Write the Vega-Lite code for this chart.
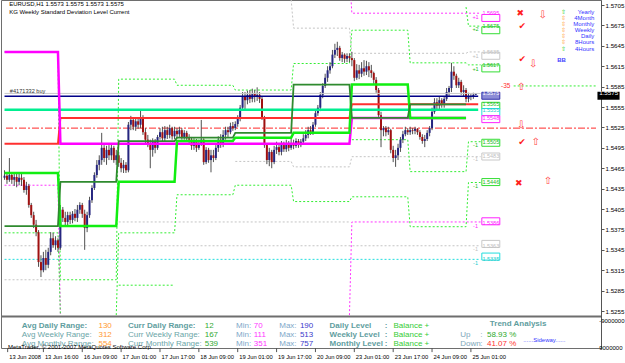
{
"$schema":"https://vega.github.io/schema/vega-lite/v6.json",
"autosize":{"type":"none"},
"padding":{"left":1,"top":0,"right":24,"bottom":15},
"background":"white",
"width":600,"height":348,
"config":{"font":"Liberation Sans","view":{"stroke":"#6e6e6e"},"axis":{"grid":false,"labelFont":"Liberation Sans"}},
"resolve":{"scale":{"y":"independent"}},
"datasets":{
"candles":[
{"i":0,"o":1.5451,"h":1.5462,"l":1.5448,"c":1.5454},{"i":1,"o":1.5454,"h":1.5459,"l":1.5442,"c":1.5448},{"i":2,"o":1.5448,"h":1.548,"l":1.5445,"c":1.5455},{"i":3,"o":1.5455,"h":1.5459,"l":1.5442,"c":1.5448},{"i":4,"o":1.5448,"h":1.5458,"l":1.5439,"c":1.5452},{"i":5,"o":1.5452,"h":1.5457,"l":1.5437,"c":1.5445},{"i":6,"o":1.5445,"h":1.5459,"l":1.544,"c":1.5451},{"i":7,"o":1.5451,"h":1.5457,"l":1.5439,"c":1.5448},{"i":8,"o":1.5448,"h":1.5452,"l":1.5429,"c":1.5433},{"i":9,"o":1.5433,"h":1.5445,"l":1.5426,"c":1.5439},
{"i":10,"o":1.5439,"h":1.5442,"l":1.5407,"c":1.5411},{"i":11,"o":1.5411,"h":1.5414,"l":1.5392,"c":1.5396},{"i":12,"o":1.5396,"h":1.5401,"l":1.5377,"c":1.5382},{"i":13,"o":1.5382,"h":1.5389,"l":1.5365,"c":1.5371},{"i":14,"o":1.5371,"h":1.5374,"l":1.532,"c":1.5327},{"i":15,"o":1.5327,"h":1.5337,"l":1.5305,"c":1.5315},{"i":16,"o":1.5315,"h":1.5342,"l":1.5312,"c":1.5333},{"i":17,"o":1.5333,"h":1.5345,"l":1.5315,"c":1.5323},{"i":18,"o":1.5323,"h":1.5348,"l":1.5318,"c":1.5342},{"i":19,"o":1.5342,"h":1.5371,"l":1.5337,"c":1.5362},
{"i":20,"o":1.5362,"h":1.537,"l":1.5348,"c":1.5352},{"i":21,"o":1.5352,"h":1.5365,"l":1.5345,"c":1.5359},{"i":22,"o":1.5359,"h":1.5362,"l":1.5342,"c":1.5348},{"i":23,"o":1.5348,"h":1.5411,"l":1.5345,"c":1.5404},{"i":24,"o":1.5404,"h":1.5408,"l":1.5386,"c":1.5392},{"i":25,"o":1.5392,"h":1.5401,"l":1.538,"c":1.5386},{"i":26,"o":1.5386,"h":1.5401,"l":1.538,"c":1.5396},{"i":27,"o":1.5396,"h":1.5401,"l":1.5383,"c":1.5389},{"i":28,"o":1.5389,"h":1.5402,"l":1.5384,"c":1.5398},{"i":29,"o":1.5398,"h":1.5405,"l":1.5387,"c":1.5392},
{"i":30,"o":1.5392,"h":1.5411,"l":1.5386,"c":1.5404},{"i":31,"o":1.5404,"h":1.5415,"l":1.5398,"c":1.5411},{"i":32,"o":1.5411,"h":1.5414,"l":1.5392,"c":1.5398},{"i":33,"o":1.5398,"h":1.5404,"l":1.5345,"c":1.5377},{"i":34,"o":1.5377,"h":1.5401,"l":1.5371,"c":1.5396},{"i":35,"o":1.5396,"h":1.5423,"l":1.5392,"c":1.5418},{"i":36,"o":1.5418,"h":1.544,"l":1.5414,"c":1.5436},{"i":37,"o":1.5436,"h":1.5459,"l":1.5433,"c":1.5455},{"i":38,"o":1.5455,"h":1.5477,"l":1.5451,"c":1.547},{"i":39,"o":1.547,"h":1.5484,"l":1.5462,"c":1.5477},
{"i":40,"o":1.5477,"h":1.5517,"l":1.547,"c":1.5495},{"i":41,"o":1.5495,"h":1.5499,"l":1.5474,"c":1.548},{"i":42,"o":1.548,"h":1.5498,"l":1.547,"c":1.5492},{"i":43,"o":1.5492,"h":1.5499,"l":1.5477,"c":1.5484},{"i":44,"o":1.5484,"h":1.5502,"l":1.5477,"c":1.5495},{"i":45,"o":1.5495,"h":1.5498,"l":1.5473,"c":1.5477},{"i":46,"o":1.5477,"h":1.5492,"l":1.547,"c":1.5484},{"i":47,"o":1.5484,"h":1.5489,"l":1.5467,"c":1.5473},{"i":48,"o":1.5473,"h":1.548,"l":1.5459,"c":1.5465},{"i":49,"o":1.5465,"h":1.5477,"l":1.5458,"c":1.547},
{"i":50,"o":1.547,"h":1.5474,"l":1.5458,"c":1.5462},{"i":51,"o":1.5462,"h":1.5533,"l":1.5459,"c":1.5529},{"i":52,"o":1.5529,"h":1.5542,"l":1.5521,"c":1.5536},{"i":53,"o":1.5536,"h":1.554,"l":1.5521,"c":1.5526},{"i":54,"o":1.5526,"h":1.5539,"l":1.552,"c":1.5534},{"i":55,"o":1.5534,"h":1.554,"l":1.5523,"c":1.5529},{"i":56,"o":1.5529,"h":1.5551,"l":1.5524,"c":1.5539},{"i":57,"o":1.5539,"h":1.5543,"l":1.5514,"c":1.5518},{"i":58,"o":1.5518,"h":1.5524,"l":1.5502,"c":1.5507},{"i":59,"o":1.5507,"h":1.5514,"l":1.5496,"c":1.5499},
{"i":60,"o":1.5499,"h":1.5507,"l":1.5465,"c":1.5492},{"i":61,"o":1.5492,"h":1.5509,"l":1.5482,"c":1.5504},{"i":62,"o":1.5504,"h":1.5508,"l":1.5487,"c":1.5495},{"i":63,"o":1.5495,"h":1.5514,"l":1.5492,"c":1.5511},{"i":64,"o":1.5511,"h":1.5524,"l":1.5507,"c":1.5518},{"i":65,"o":1.5518,"h":1.5526,"l":1.5504,"c":1.5509},{"i":66,"o":1.5509,"h":1.5527,"l":1.5505,"c":1.5521},{"i":67,"o":1.5521,"h":1.5526,"l":1.5508,"c":1.5514},{"i":68,"o":1.5514,"h":1.5529,"l":1.5509,"c":1.5524},{"i":69,"o":1.5524,"h":1.5526,"l":1.5507,"c":1.5512},
{"i":70,"o":1.5512,"h":1.5526,"l":1.5508,"c":1.552},{"i":71,"o":1.552,"h":1.5524,"l":1.5509,"c":1.5515},{"i":72,"o":1.5515,"h":1.5526,"l":1.5511,"c":1.5521},{"i":73,"o":1.5521,"h":1.5524,"l":1.5507,"c":1.5511},{"i":74,"o":1.5511,"h":1.5521,"l":1.5507,"c":1.5517},{"i":75,"o":1.5517,"h":1.552,"l":1.5505,"c":1.5509},{"i":76,"o":1.5509,"h":1.5515,"l":1.5501,"c":1.5507},{"i":77,"o":1.5507,"h":1.5511,"l":1.5492,"c":1.5498},{"i":78,"o":1.5498,"h":1.5509,"l":1.5492,"c":1.5505},{"i":79,"o":1.5505,"h":1.5508,"l":1.5489,"c":1.5495},
{"i":80,"o":1.5495,"h":1.5507,"l":1.5492,"c":1.5502},{"i":81,"o":1.5502,"h":1.5536,"l":1.5498,"c":1.5507},{"i":82,"o":1.5507,"h":1.5509,"l":1.547,"c":1.5474},{"i":83,"o":1.5474,"h":1.5496,"l":1.5471,"c":1.5492},{"i":84,"o":1.5492,"h":1.5495,"l":1.5473,"c":1.5477},{"i":85,"o":1.5477,"h":1.5492,"l":1.5459,"c":1.5484},{"i":86,"o":1.5484,"h":1.5492,"l":1.5474,"c":1.548},{"i":87,"o":1.548,"h":1.5499,"l":1.5477,"c":1.5495},{"i":88,"o":1.5495,"h":1.5512,"l":1.5489,"c":1.5507},{"i":89,"o":1.5507,"h":1.5515,"l":1.5495,"c":1.5501},
{"i":90,"o":1.5501,"h":1.5521,"l":1.5496,"c":1.5514},{"i":91,"o":1.5514,"h":1.5526,"l":1.5507,"c":1.5521},{"i":92,"o":1.5521,"h":1.5526,"l":1.5511,"c":1.5518},{"i":93,"o":1.5518,"h":1.5532,"l":1.5515,"c":1.5527},{"i":94,"o":1.5527,"h":1.5533,"l":1.552,"c":1.5524},{"i":95,"o":1.5524,"h":1.5534,"l":1.5521,"c":1.553},{"i":96,"o":1.553,"h":1.5543,"l":1.5526,"c":1.5539},{"i":97,"o":1.5539,"h":1.5558,"l":1.5534,"c":1.5554},{"i":98,"o":1.5554,"h":1.5577,"l":1.5551,"c":1.5571},{"i":99,"o":1.5571,"h":1.5577,"l":1.5551,"c":1.5565},
{"i":100,"o":1.5565,"h":1.5579,"l":1.5559,"c":1.5573},{"i":101,"o":1.5573,"h":1.558,"l":1.5561,"c":1.5567},{"i":102,"o":1.5567,"h":1.5582,"l":1.5562,"c":1.5574},{"i":103,"o":1.5574,"h":1.558,"l":1.5562,"c":1.557},{"i":104,"o":1.557,"h":1.5584,"l":1.5564,"c":1.5573},{"i":105,"o":1.5573,"h":1.5577,"l":1.5561,"c":1.5567},{"i":106,"o":1.5567,"h":1.557,"l":1.5536,"c":1.5539},{"i":107,"o":1.5539,"h":1.5542,"l":1.5495,"c":1.5499},{"i":108,"o":1.5499,"h":1.5502,"l":1.5471,"c":1.5477},{"i":109,"o":1.5477,"h":1.5495,"l":1.5468,"c":1.5489},
{"i":110,"o":1.5489,"h":1.5492,"l":1.5465,"c":1.5474},{"i":111,"o":1.5474,"h":1.5498,"l":1.5471,"c":1.5492},{"i":112,"o":1.5492,"h":1.5504,"l":1.5486,"c":1.5496},{"i":113,"o":1.5496,"h":1.5501,"l":1.5484,"c":1.5489},{"i":114,"o":1.5489,"h":1.5505,"l":1.5484,"c":1.5499},{"i":115,"o":1.5499,"h":1.5504,"l":1.5489,"c":1.5493},{"i":116,"o":1.5493,"h":1.5507,"l":1.5489,"c":1.5501},{"i":117,"o":1.5501,"h":1.5505,"l":1.549,"c":1.5495},{"i":118,"o":1.5495,"h":1.5508,"l":1.5492,"c":1.5502},{"i":119,"o":1.5502,"h":1.5507,"l":1.5493,"c":1.5498},
{"i":120,"o":1.5498,"h":1.5509,"l":1.5495,"c":1.5505},{"i":121,"o":1.5505,"h":1.5508,"l":1.5495,"c":1.5499},{"i":122,"o":1.5499,"h":1.5508,"l":1.5496,"c":1.5504},{"i":123,"o":1.5504,"h":1.5515,"l":1.5501,"c":1.5509},{"i":124,"o":1.5509,"h":1.5521,"l":1.5505,"c":1.5514},{"i":125,"o":1.5514,"h":1.5526,"l":1.5509,"c":1.5521},{"i":126,"o":1.5521,"h":1.5527,"l":1.5514,"c":1.5518},{"i":127,"o":1.5518,"h":1.5533,"l":1.5514,"c":1.5529},{"i":128,"o":1.5529,"h":1.5551,"l":1.5526,"c":1.5546},{"i":129,"o":1.5546,"h":1.5558,"l":1.5542,"c":1.5554},
{"i":130,"o":1.5554,"h":1.5577,"l":1.5549,"c":1.5573},{"i":131,"o":1.5573,"h":1.559,"l":1.5568,"c":1.5586},{"i":132,"o":1.5586,"h":1.5604,"l":1.5583,"c":1.5598},{"i":133,"o":1.5598,"h":1.5615,"l":1.5592,"c":1.5609},{"i":134,"o":1.5609,"h":1.5621,"l":1.5604,"c":1.5615},{"i":135,"o":1.5615,"h":1.5639,"l":1.5612,"c":1.5632},{"i":136,"o":1.5632,"h":1.5648,"l":1.5627,"c":1.5639},{"i":137,"o":1.5639,"h":1.5651,"l":1.563,"c":1.5642},{"i":138,"o":1.5642,"h":1.5645,"l":1.5623,"c":1.5627},{"i":139,"o":1.5627,"h":1.5636,"l":1.5621,"c":1.5632},
{"i":140,"o":1.5632,"h":1.5634,"l":1.562,"c":1.5626},{"i":141,"o":1.5626,"h":1.5634,"l":1.5621,"c":1.563},{"i":142,"o":1.563,"h":1.5634,"l":1.5621,"c":1.5627},{"i":143,"o":1.5627,"h":1.5636,"l":1.5615,"c":1.5624},{"i":144,"o":1.5624,"h":1.5627,"l":1.5593,"c":1.5598},{"i":145,"o":1.5598,"h":1.5618,"l":1.5595,"c":1.5609},{"i":146,"o":1.5609,"h":1.5617,"l":1.5596,"c":1.5604},{"i":147,"o":1.5604,"h":1.5621,"l":1.5599,"c":1.5612},{"i":148,"o":1.5612,"h":1.5624,"l":1.5601,"c":1.5607},{"i":149,"o":1.5607,"h":1.5623,"l":1.5602,"c":1.5615},
{"i":150,"o":1.5615,"h":1.5621,"l":1.5599,"c":1.5609},{"i":151,"o":1.5609,"h":1.5617,"l":1.5598,"c":1.5605},{"i":152,"o":1.5605,"h":1.5607,"l":1.5589,"c":1.5595},{"i":153,"o":1.5595,"h":1.5599,"l":1.5576,"c":1.558},{"i":154,"o":1.558,"h":1.5583,"l":1.5539,"c":1.5543},{"i":155,"o":1.5543,"h":1.5548,"l":1.5496,"c":1.5521},{"i":156,"o":1.5521,"h":1.5527,"l":1.5512,"c":1.5524},{"i":157,"o":1.5524,"h":1.5527,"l":1.5512,"c":1.5518},{"i":158,"o":1.5518,"h":1.5526,"l":1.5514,"c":1.5521},{"i":159,"o":1.5521,"h":1.5523,"l":1.5487,"c":1.5492},
{"i":160,"o":1.5492,"h":1.5498,"l":1.5474,"c":1.548},{"i":161,"o":1.548,"h":1.5492,"l":1.5467,"c":1.5484},{"i":162,"o":1.5484,"h":1.5501,"l":1.5477,"c":1.5495},{"i":163,"o":1.5495,"h":1.5511,"l":1.5489,"c":1.5507},{"i":164,"o":1.5507,"h":1.552,"l":1.5502,"c":1.5515},{"i":165,"o":1.5515,"h":1.5526,"l":1.5512,"c":1.5521},{"i":166,"o":1.5521,"h":1.5524,"l":1.5514,"c":1.5518},{"i":167,"o":1.5518,"h":1.5526,"l":1.5514,"c":1.5521},{"i":168,"o":1.5521,"h":1.5524,"l":1.5515,"c":1.552},{"i":169,"o":1.552,"h":1.5526,"l":1.5515,"c":1.5523},
{"i":170,"o":1.5523,"h":1.5524,"l":1.5514,"c":1.5518},{"i":171,"o":1.5518,"h":1.5521,"l":1.5507,"c":1.5511},{"i":172,"o":1.5511,"h":1.5515,"l":1.5501,"c":1.5505},{"i":173,"o":1.5505,"h":1.5514,"l":1.5496,"c":1.5508},{"i":174,"o":1.5508,"h":1.5521,"l":1.5505,"c":1.5517},{"i":175,"o":1.5517,"h":1.5527,"l":1.5512,"c":1.5524},{"i":176,"o":1.5524,"h":1.5554,"l":1.5521,"c":1.5548},{"i":177,"o":1.5548,"h":1.5568,"l":1.5545,"c":1.5562},{"i":178,"o":1.5562,"h":1.5568,"l":1.5551,"c":1.5557},{"i":179,"o":1.5557,"h":1.557,"l":1.5552,"c":1.5565},
{"i":180,"o":1.5565,"h":1.5568,"l":1.5554,"c":1.5558},{"i":181,"o":1.5558,"h":1.5571,"l":1.5554,"c":1.5567},{"i":182,"o":1.5567,"h":1.5583,"l":1.5564,"c":1.5577},{"i":183,"o":1.5577,"h":1.5586,"l":1.5571,"c":1.5583},{"i":184,"o":1.5583,"h":1.562,"l":1.5577,"c":1.5607},{"i":185,"o":1.5607,"h":1.5615,"l":1.5595,"c":1.5601},{"i":186,"o":1.5601,"h":1.5604,"l":1.5583,"c":1.5587},{"i":187,"o":1.5587,"h":1.5598,"l":1.5583,"c":1.5592},{"i":188,"o":1.5592,"h":1.5595,"l":1.5573,"c":1.5577},{"i":189,"o":1.5577,"h":1.5587,"l":1.5571,"c":1.558},
{"i":190,"o":1.558,"h":1.5583,"l":1.5562,"c":1.5567},{"i":191,"o":1.5567,"h":1.5576,"l":1.5562,"c":1.5571},{"i":192,"o":1.5571,"h":1.5574,"l":1.5565,"c":1.557},{"i":193,"o":1.557,"h":1.5576,"l":1.5567,"c":1.5573},{"i":194,"o":1.5573,"h":1.5575,"l":1.5573,"c":1.5575}
],
"lv":[
{"s":"mag","g":"mag","i":0,"p":1.5636},{"s":"mag","g":"mag","i":22,"p":1.5636},{"s":"mag","g":"mag","i":23,"p":1.5501},{"s":"mag","g":"mag","i":142,"p":1.5501},{"s":"mag","g":"mag","i":143,"p":1.5539},{"s":"mag","g":"mag","i":190,"p":1.5539},
{"s":"red","g":"red","i":0,"p":1.5501},{"s":"red","g":"red","i":22,"p":1.5501},{"s":"red","g":"red","i":23,"p":1.5539},{"s":"red","g":"red","i":142,"p":1.5539},{"s":"red","g":"red","i":143,"p":1.5559},{"s":"red","g":"red","i":195,"p":1.5559},
{"s":"spr","g":"spr","i":0,"p":1.5551},{"s":"spr","g":"spr","i":195,"p":1.5551},
{"s":"nav","g":"nav","i":0,"p":1.5571},{"s":"nav","g":"nav","i":195,"p":1.5571},
{"s":"bid","g":"bid","i":0,"p":1.5575},{"s":"bid","g":"bid","i":196,"p":1.5575},
{"s":"bgr","g":"bgr","i":0,"p":1.5458},{"s":"bgr","g":"bgr","i":22,"p":1.5458},{"s":"bgr","g":"bgr","i":23,"p":1.538},{"s":"bgr","g":"bgr","i":46,"p":1.538},{"s":"bgr","g":"bgr","i":47,"p":1.5445},{"s":"bgr","g":"bgr","i":70,"p":1.5445},{"s":"bgr","g":"bgr","i":71,"p":1.5505},{"s":"bgr","g":"bgr","i":94,"p":1.5505},{"s":"bgr","g":"bgr","i":95,"p":1.551},{"s":"bgr","g":"bgr","i":118,"p":1.551},{"s":"bgr","g":"bgr","i":119,"p":1.5517},{"s":"bgr","g":"bgr","i":142,"p":1.5517},{"s":"bgr","g":"bgr","i":143,"p":1.5588},{"s":"bgr","g":"bgr","i":166,"p":1.5588},{"s":"bgr","g":"bgr","i":167,"p":1.5539},{"s":"bgr","g":"bgr","i":190,"p":1.5539},
{"s":"dgr","g":"dgr","i":0,"p":1.538},{"s":"dgr","g":"dgr","i":22,"p":1.538},{"s":"dgr","g":"dgr","i":23,"p":1.5445},{"s":"dgr","g":"dgr","i":46,"p":1.5445},{"s":"dgr","g":"dgr","i":47,"p":1.5505},{"s":"dgr","g":"dgr","i":70,"p":1.5505},{"s":"dgr","g":"dgr","i":71,"p":1.551},{"s":"dgr","g":"dgr","i":94,"p":1.551},{"s":"dgr","g":"dgr","i":95,"p":1.5517},{"s":"dgr","g":"dgr","i":118,"p":1.5517},{"s":"dgr","g":"dgr","i":119,"p":1.5588},{"s":"dgr","g":"dgr","i":142,"p":1.5588},{"s":"dgr","g":"dgr","i":143,"p":1.5539},{"s":"dgr","g":"dgr","i":166,"p":1.5539},{"s":"dgr","g":"dgr","i":167,"p":1.5559},{"s":"dgr","g":"dgr","i":190,"p":1.5559},
{"s":"gd","g":"gdU","i":0,"p":1.5636},{"s":"gd","g":"gdU","i":22,"p":1.5636},{"s":"gd","g":"gdU","i":23,"p":1.5301},{"s":"gd","g":"gdU","i":46,"p":1.5301},{"s":"gd","g":"gdU","i":47,"p":1.5596},{"s":"gd","g":"gdU","i":70,"p":1.5596},{"s":"gd","g":"gdU","i":71,"p":1.5587},{"s":"gd","g":"gdU","i":94,"p":1.5587},{"s":"gd","g":"gdU","i":95,"p":1.558},{"s":"gd","g":"gdU","i":118,"p":1.558},{"s":"gd","g":"gdU","i":119,"p":1.5619},{"s":"gd","g":"gdU","i":142,"p":1.5619},{"s":"gd","g":"gdU","i":143,"p":1.5668},{"s":"gd","g":"gdU","i":166,"p":1.5668},{"s":"gd","g":"gdU","i":167,"p":1.562},{"s":"gd","g":"gdU","i":190,"p":1.562},{"s":"gd","g":"gdU","i":191,"p":1.5617},{"s":"gd","g":"gdU","i":196,"p":1.5617},
{"s":"gd","g":"gdL1","i":0,"p":1.537},{"s":"gd","g":"gdL1","i":22,"p":1.537},{"s":"gd","g":"gdL1","i":23,"p":1.5249},
{"s":"gd","g":"gdL2","i":46,"p":1.5249},{"s":"gd","g":"gdL2","i":47,"p":1.537},{"s":"gd","g":"gdL2","i":70,"p":1.537},{"s":"gd","g":"gdL2","i":71,"p":1.5426},{"s":"gd","g":"gdL2","i":94,"p":1.5426},{"s":"gd","g":"gdL2","i":95,"p":1.544},{"s":"gd","g":"gdL2","i":118,"p":1.544},{"s":"gd","g":"gdL2","i":119,"p":1.5416},{"s":"gd","g":"gdL2","i":142,"p":1.5416},{"s":"gd","g":"gdL2","i":143,"p":1.5423},{"s":"gd","g":"gdL2","i":166,"p":1.5423},{"s":"gd","g":"gdL2","i":167,"p":1.5379},{"s":"gd","g":"gdL2","i":190,"p":1.5379},{"s":"gd","g":"gdL2","i":191,"p":1.5444},{"s":"gd","g":"gdL2","i":196,"p":1.5444},
{"s":"gd","g":"gdL3","i":47,"p":1.5293},{"s":"gd","g":"gdL3","i":70,"p":1.5293},
{"s":"gd","g":"gdM","i":143,"p":1.5507},{"s":"gd","g":"gdM","i":166,"p":1.5507},{"s":"gd","g":"gdM","i":167,"p":1.546},{"s":"gd","g":"gdM","i":190,"p":1.546},{"s":"gd","g":"gdM","i":191,"p":1.5504},{"s":"gd","g":"gdM","i":196,"p":1.5504},
{"s":"gd","g":"gd2","i":190,"p":1.5702},{"s":"gd","g":"gd2","i":191,"p":1.5674},{"s":"gd","g":"gd2","i":196,"p":1.5674},
{"s":"gd","g":"gdR","i":209.6,"p":1.5586},{"s":"gd","g":"gdR","i":243.5,"p":1.5586},
{"s":"gy","g":"gyA","i":0,"p":1.5351},{"s":"gy","g":"gyA","i":196,"p":1.5351},
{"s":"gy","g":"gyB","i":47,"p":1.5386},{"s":"gy","g":"gyB","i":142,"p":1.5386},
{"s":"gy","g":"gyC","i":118,"p":1.5713},{"s":"gy","g":"gyC","i":119,"p":1.5671},{"s":"gy","g":"gyC","i":142,"p":1.5671},{"s":"gy","g":"gyC","i":143,"p":1.5634},{"s":"gy","g":"gyC","i":190,"p":1.5634},{"s":"gy","g":"gyC","i":191,"p":1.5636},{"s":"gy","g":"gyC","i":196,"p":1.5636},
{"s":"gy","g":"gyD","i":95,"p":1.5475},{"s":"gy","g":"gyD","i":118,"p":1.5475},{"s":"gy","g":"gyD","i":119,"p":1.5467},{"s":"gy","g":"gyD","i":142,"p":1.5467},{"s":"gy","g":"gyD","i":143,"p":1.5482},{"s":"gy","g":"gyD","i":196,"p":1.5482},
{"s":"gy","g":"gyE","i":0,"p":1.5301},{"s":"gy","g":"gyE","i":22,"p":1.5301},
{"s":"cy","g":"cyA","i":0,"p":1.5331},{"s":"cy","g":"cyA","i":196,"p":1.5331},
{"s":"md","g":"mdA","i":0,"p":1.544},{"s":"md","g":"mdA","i":22,"p":1.544},{"s":"md","g":"mdA","i":23,"p":1.5249},
{"s":"md","g":"mdB","i":142,"p":1.5249},{"s":"md","g":"mdB","i":143,"p":1.5386},{"s":"md","g":"mdB","i":196,"p":1.5386},
{"s":"md","g":"mdC","i":142,"p":1.575},{"s":"md","g":"mdC","i":143,"p":1.5693},{"s":"md","g":"mdC","i":196,"p":1.5693}
],
"boxes":[
{"lab":"1.5695","p":1.56928,"c":"mag","tag":"+1"},{"lab":"1.5675","p":1.56742,"c":"grn","tag":"+2"},{"lab":"1.5635","p":1.56355,"c":"gry","tag":"+1"},{"lab":"1.5617","p":1.56164,"c":"grn","tag":"+1"},{"lab":"1.5565","p":1.55598,"c":"grn","tag":""},{"lab":"1.5555","p":1.55504,"c":"cyn","tag":""},{"lab":"1.5548","p":1.55396,"c":"mag","tag":""},{"lab":"1.5505","p":1.55038,"c":"grn","tag":"-1"},{"lab":"1.5483","p":1.5483,"c":"gry","tag":"-1"},{"lab":"1.5446","p":1.54443,"c":"grn","tag":"-1"},{"lab":"1.5386","p":1.53849,"c":"mag","tag":"-1"},{"lab":"1.5363","p":1.53507,"c":"gry","tag":"-1"},{"lab":"1.5335","p":1.53315,"c":"cyn","tag":"-1"}
],
"signals":[
{"g":"✖","i":212.3,"p":1.56933},{"g":"✔","i":213.1,"p":1.56742},{"g":"✔","i":213.1,"p":1.5625},{"g":"✔","i":213,"p":1.5503},{"g":"✖","i":211.7,"p":1.5444}
],
"arrows":[
{"g":"⇩","i":221.6,"p":1.56904},{"g":"⇩","i":217.6,"p":1.56178},{"g":"⇧","i":212.7,"p":1.5584},{"g":"⇩","i":212.7,"p":1.55286},{"g":"⇧","i":218.7,"p":1.5504},{"g":"⇧","i":223.7,"p":1.54462}
],
"tf":[
{"t":"Yearly","p":1.56948},{"t":"4Month","p":1.5686},{"t":"Monthly","p":1.56771},{"t":"Weekly","p":1.56683},{"t":"Daily","p":1.56595},{"t":"8Hours","p":1.56507},{"t":"4Hours","p":1.56408}
],
"xl":[
{"i":1.29,"t":"13 Jun 2008"},{"i":16,"t":"13 Jun 16:00"},{"i":32,"t":"16 Jun 09:00"},{"i":48,"t":"17 Jun 01:00"},{"i":64,"t":"17 Jun 17:00"},{"i":80,"t":"18 Jun 09:00"},{"i":96,"t":"19 Jun 01:00"},{"i":112,"t":"19 Jun 17:00"},{"i":128,"t":"20 Jun 09:00"},{"i":144,"t":"23 Jun 01:00"},{"i":160,"t":"23 Jun 17:00"},{"i":176,"t":"24 Jun 09:00"},{"i":192,"t":"25 Jun 01:00"}
],
"stats":[
{"g":"al","r":1,"t":"Avg Daily Range:"},{"g":"al","r":2,"t":"Avg Weekly Range:"},{"g":"al","r":3,"t":"Avg Monthly Range:"},
{"g":"av","r":1,"t":"130"},{"g":"av","r":2,"t":"312"},{"g":"av","r":3,"t":"554"},
{"g":"cl","r":1,"t":"Curr Daily Range:"},{"g":"cl","r":2,"t":"Curr Weekly Range:"},{"g":"cl","r":3,"t":"Curr Monthly Range:"},
{"g":"cv","r":1,"t":"12"},{"g":"cv","r":2,"t":"167"},{"g":"cv","r":3,"t":"539"},
{"g":"mnl","r":1,"t":"Min:"},{"g":"mnl","r":2,"t":"Min:"},{"g":"mnl","r":3,"t":"Min:"},
{"g":"mn","r":1,"t":"70"},{"g":"mn","r":2,"t":"111"},{"g":"mn","r":3,"t":"351"},
{"g":"mxl","r":1,"t":"Max:"},{"g":"mxl","r":2,"t":"Max:"},{"g":"mxl","r":3,"t":"Max:"},
{"g":"mx","r":1,"t":"190"},{"g":"mx","r":2,"t":"513"},{"g":"mx","r":3,"t":"757"},
{"g":"ll","r":1,"t":"Daily Level"},{"g":"ll","r":2,"t":"Weekly Level"},{"g":"ll","r":3,"t":"Monthly Level"},
{"g":"lc","r":1,"t":":"},{"g":"lc","r":2,"t":":"},{"g":"lc","r":3,"t":":"},
{"g":"lb","r":1,"t":"Balance +"},{"g":"lb","r":2,"t":"Balance +"},{"g":"lb","r":3,"t":"Balance +"},
{"g":"tu","r":2,"t":"Up"},{"g":"tu","r":3,"t":"Down"},
{"g":"tc","r":2,"t":":"},{"g":"tc","r":3,"t":":"},
{"g":"tp","r":2,"t":"58.93 %"},{"g":"tp","r":3,"t":"41.07 %"}
],
"pnl":[{"t":"-9000000","r":0.44},{"t":"9000000","r":3.41}]
},
"layer":[
{"data":{"values":[{"i":0.607,"p":1.5524},{"i":243.5,"p":1.5524}]},"mark":{"type":"line","color":"#ff2a2a","strokeWidth":1,"strokeDash":[7,2,2,2]},
 "encoding":{
 "x":{"field":"i","type":"quantitative","title":null,"scale":{"domain":[0.607,243.5],"nice":false,"zero":false},"axis":null},
 "y":{"field":"p","type":"quantitative","title":null,"scale":{"domain":[1.520064,1.57124],"nice":false,"zero":false},
  "axis":{"orient":"right","values":[1.5255,1.5285,1.5315,1.5345,1.5375,1.5405,1.5435,1.5465,1.5495,1.5525,1.5555,1.5585,1.5615,1.5645,1.5675,1.5705],"format":".4f","tickSize":3,"tickColor":"#555555","domainColor":"#555555","labelFontSize":6.2,"labelPadding":1,"labelColor":"#000000","labelBaseline":"middle"}}}},
{"data":{"name":"xl"},"mark":{"type":"rule","color":"#555555","strokeWidth":1},
 "encoding":{"x":{"field":"i","type":"quantitative","scale":{"domain":[0.607,243.5],"nice":false,"zero":false},"axis":null},
 "y":{"datum":3.444,"type":"quantitative","scale":{"domain":[-35.222,3.444],"reverse":true,"nice":false,"zero":false},"axis":null},"y2":{"datum":3.9}}},
{"data":{"name":"xl"},"mark":{"type":"text","fontSize":5.8,"color":"#000000","align":"left","baseline":"middle","dx":1.5},
 "encoding":{"x":{"field":"i","type":"quantitative","scale":{"domain":[0.607,243.5],"nice":false,"zero":false},"axis":null},
 "y":{"datum":4.4,"type":"quantitative","scale":{"domain":[-35.222,3.444],"reverse":true,"nice":false,"zero":false},"axis":null},"text":{"field":"t"}}},
{"data":{"values":[{"r":-0.05}]},"mark":{"type":"rule","color":"#6e6e6e","strokeWidth":2},
 "encoding":{"y":{"field":"r","type":"quantitative","scale":{"domain":[-35.222,3.444],"reverse":true,"nice":false,"zero":false},"axis":null}}},
{"data":{"name":"lv"},"transform":[{"filter":"datum.s=='gy'"}],"mark":{"type":"line","color":"#c4c4c4","strokeWidth":1,"strokeDash":[2,2],"clip":true},
 "encoding":{"x":{"field":"i","type":"quantitative","scale":{"domain":[0.607,243.5],"nice":false,"zero":false},"axis":null},"y":{"field":"p","type":"quantitative","scale":{"domain":[1.520064,1.57124],"nice":false,"zero":false},"axis":null},"detail":{"field":"g"}}},
{"data":{"name":"lv"},"transform":[{"filter":"datum.s=='cy'"}],"mark":{"type":"line","color":"#22dddd","strokeWidth":1,"strokeDash":[2,2],"clip":true},
 "encoding":{"x":{"field":"i","type":"quantitative","scale":{"domain":[0.607,243.5],"nice":false,"zero":false},"axis":null},"y":{"field":"p","type":"quantitative","scale":{"domain":[1.520064,1.57124],"nice":false,"zero":false},"axis":null},"detail":{"field":"g"}}},
{"data":{"name":"lv"},"transform":[{"filter":"datum.s=='md'"}],"mark":{"type":"line","color":"#ff33ff","strokeWidth":1,"strokeDash":[2,2],"clip":true},
 "encoding":{"x":{"field":"i","type":"quantitative","scale":{"domain":[0.607,243.5],"nice":false,"zero":false},"axis":null},"y":{"field":"p","type":"quantitative","scale":{"domain":[1.520064,1.57124],"nice":false,"zero":false},"axis":null},"detail":{"field":"g"}}},
{"data":{"name":"lv"},"transform":[{"filter":"datum.s=='gd'"}],"mark":{"type":"line","color":"#33ee33","strokeWidth":1,"strokeDash":[2,2],"clip":true},
 "encoding":{"x":{"field":"i","type":"quantitative","scale":{"domain":[0.607,243.5],"nice":false,"zero":false},"axis":null},"y":{"field":"p","type":"quantitative","scale":{"domain":[1.520064,1.57124],"nice":false,"zero":false},"axis":null},"detail":{"field":"g"}}},
{"data":{"name":"candles"},"mark":{"type":"rule","color":"#505050","strokeWidth":1,"clip":true},
 "encoding":{"x":{"field":"i","type":"quantitative","scale":{"domain":[0.607,243.5],"nice":false,"zero":false},"axis":null},"y":{"field":"l","type":"quantitative","scale":{"domain":[1.520064,1.57124],"nice":false,"zero":false},"axis":null},"y2":{"field":"h"}}},
{"data":{"name":"candles"},"mark":{"type":"bar","width":2,"clip":true},
 "encoding":{"x":{"field":"i","type":"quantitative","scale":{"domain":[0.607,243.5],"nice":false,"zero":false},"axis":null},"y":{"field":"o","type":"quantitative","scale":{"domain":[1.520064,1.57124],"nice":false,"zero":false},"axis":null},"y2":{"field":"c"},
 "color":{"condition":{"test":"datum.c>=datum.o","value":"#262680"},"value":"#a01010"}}},
{"data":{"name":"lv"},"transform":[{"filter":"datum.s=='bid'"}],"mark":{"type":"line","color":"#c8c8c8","strokeWidth":1,"clip":true},
 "encoding":{"x":{"field":"i","type":"quantitative","scale":{"domain":[0.607,243.5],"nice":false,"zero":false},"axis":null},"y":{"field":"p","type":"quantitative","scale":{"domain":[1.520064,1.57124],"nice":false,"zero":false},"axis":null}}},
{"data":{"name":"lv"},"transform":[{"filter":"datum.s=='nav'"}],"mark":{"type":"line","color":"#000088","strokeWidth":1.5,"clip":true},
 "encoding":{"x":{"field":"i","type":"quantitative","scale":{"domain":[0.607,243.5],"nice":false,"zero":false},"axis":null},"y":{"field":"p","type":"quantitative","scale":{"domain":[1.520064,1.57124],"nice":false,"zero":false},"axis":null}}},
{"data":{"name":"lv"},"transform":[{"filter":"datum.s=='spr'"}],"mark":{"type":"line","color":"#00ee90","strokeWidth":2.5,"clip":true},
 "encoding":{"x":{"field":"i","type":"quantitative","scale":{"domain":[0.607,243.5],"nice":false,"zero":false},"axis":null},"y":{"field":"p","type":"quantitative","scale":{"domain":[1.520064,1.57124],"nice":false,"zero":false},"axis":null}}},
{"data":{"name":"lv"},"transform":[{"filter":"datum.s=='red'"}],"mark":{"type":"line","color":"#ff3030","strokeWidth":2,"clip":true},
 "encoding":{"x":{"field":"i","type":"quantitative","scale":{"domain":[0.607,243.5],"nice":false,"zero":false},"axis":null},"y":{"field":"p","type":"quantitative","scale":{"domain":[1.520064,1.57124],"nice":false,"zero":false},"axis":null}}},
{"data":{"name":"lv"},"transform":[{"filter":"datum.s=='mag'"}],"mark":{"type":"line","color":"#ff00ff","strokeWidth":2.5,"clip":true},
 "encoding":{"x":{"field":"i","type":"quantitative","scale":{"domain":[0.607,243.5],"nice":false,"zero":false},"axis":null},"y":{"field":"p","type":"quantitative","scale":{"domain":[1.520064,1.57124],"nice":false,"zero":false},"axis":null}}},
{"data":{"name":"lv"},"transform":[{"filter":"datum.s=='bgr'"}],"mark":{"type":"line","color":"#11ee11","strokeWidth":2.5,"clip":true},
 "encoding":{"x":{"field":"i","type":"quantitative","scale":{"domain":[0.607,243.5],"nice":false,"zero":false},"axis":null},"y":{"field":"p","type":"quantitative","scale":{"domain":[1.520064,1.57124],"nice":false,"zero":false},"axis":null}}},
{"data":{"name":"lv"},"transform":[{"filter":"datum.s=='dgr'"}],"mark":{"type":"line","color":"#2f8a2f","strokeWidth":1.8,"clip":true},
 "encoding":{"x":{"field":"i","type":"quantitative","scale":{"domain":[0.607,243.5],"nice":false,"zero":false},"axis":null},"y":{"field":"p","type":"quantitative","scale":{"domain":[1.520064,1.57124],"nice":false,"zero":false},"axis":null}}},
{"data":{"name":"boxes"},"mark":{"type":"bar","height":7,"fill":"white","strokeWidth":1},
 "encoding":{"x":{"datum":196.5,"type":"quantitative","scale":{"domain":[0.607,243.5],"nice":false,"zero":false},"axis":null},"x2":{"datum":203.9},"y":{"field":"p","type":"quantitative","scale":{"domain":[1.520064,1.57124],"nice":false,"zero":false},"axis":null},
 "stroke":{"field":"c","type":"nominal","scale":{"domain":["mag","grn","gry","cyn","nav"],"range":["#ff22ff","#33dd33","#c8c8c8","#22dddd","#3333cc"]},"legend":null}}},
{"data":{"name":"boxes"},"mark":{"type":"text","fontSize":5.5,"align":"center","baseline":"middle"},
 "encoding":{"x":{"datum":200.2,"type":"quantitative","scale":{"domain":[0.607,243.5],"nice":false,"zero":false},"axis":null},"y":{"field":"p","type":"quantitative","scale":{"domain":[1.520064,1.57124],"nice":false,"zero":false},"axis":null},"text":{"field":"lab"},
 "color":{"field":"c","type":"nominal","scale":{"domain":["mag","grn","gry","cyn","nav"],"range":["#ff22ff","#22bb22","#c0c0c0","#22cccc","#3333cc"]},"legend":null}}},
{"data":{"name":"boxes"},"mark":{"type":"text","fontSize":5.5,"align":"center","baseline":"middle","dy":3.5},
 "encoding":{"x":{"datum":193.9,"type":"quantitative","scale":{"domain":[0.607,243.5],"nice":false,"zero":false},"axis":null},"y":{"field":"p","type":"quantitative","scale":{"domain":[1.520064,1.57124],"nice":false,"zero":false},"axis":null},"text":{"field":"tag"},
 "color":{"field":"c","type":"nominal","scale":{"domain":["mag","grn","gry","cyn","nav"],"range":["#ff22ff","#22bb22","#c0c0c0","#22cccc","#3333cc"]},"legend":null}}},
{"data":{"values":[{"p":1.5575,"lab":"1.5575"}]},"mark":{"type":"bar","height":7,"fill":"#8c8cd6","stroke":"#3333aa","strokeWidth":1},
 "encoding":{"x":{"datum":196.5,"type":"quantitative","scale":{"domain":[0.607,243.5],"nice":false,"zero":false},"axis":null},"x2":{"datum":203.9},"y":{"field":"p","type":"quantitative","scale":{"domain":[1.520064,1.57124],"nice":false,"zero":false},"axis":null}}},
{"data":{"values":[{"p":1.5575,"lab":"1.5575"}]},"mark":{"type":"text","fontSize":5.5,"align":"center","baseline":"middle","color":"#ffffff"},
 "encoding":{"x":{"datum":200.2,"type":"quantitative","scale":{"domain":[0.607,243.5],"nice":false,"zero":false},"axis":null},"y":{"field":"p","type":"quantitative","scale":{"domain":[1.520064,1.57124],"nice":false,"zero":false},"axis":null},"text":{"field":"lab"}}},
{"data":{"values":[{"t":"-35","p":1.5586}]},"mark":{"type":"text","fontSize":6.5,"align":"left","baseline":"middle","color":"#ff3030"},
 "encoding":{"x":{"datum":204.4,"type":"quantitative","scale":{"domain":[0.607,243.5],"nice":false,"zero":false},"axis":null},"y":{"field":"p","type":"quantitative","scale":{"domain":[1.520064,1.57124],"nice":false,"zero":false},"axis":null},"text":{"field":"t"}}},
{"data":{"name":"signals"},"mark":{"type":"text","fontSize":9,"font":"DejaVu Sans","color":"#ff2020","align":"center","baseline":"middle"},
 "encoding":{"x":{"field":"i","type":"quantitative","scale":{"domain":[0.607,243.5],"nice":false,"zero":false},"axis":null},"y":{"field":"p","type":"quantitative","scale":{"domain":[1.520064,1.57124],"nice":false,"zero":false},"axis":null},"text":{"field":"g"}}},
{"data":{"name":"arrows"},"mark":{"type":"text","fontSize":10,"font":"DejaVu Sans","color":"#ff4040","align":"center","baseline":"middle"},
 "encoding":{"x":{"field":"i","type":"quantitative","scale":{"domain":[0.607,243.5],"nice":false,"zero":false},"axis":null},"y":{"field":"p","type":"quantitative","scale":{"domain":[1.520064,1.57124],"nice":false,"zero":false},"axis":null},"text":{"field":"g"}}},
{"data":{"name":"tf"},"mark":{"type":"text","fontSize":6,"color":"#3333ff","align":"right","baseline":"middle"},
 "encoding":{"x":{"datum":242.8,"type":"quantitative","scale":{"domain":[0.607,243.5],"nice":false,"zero":false},"axis":null},"y":{"field":"p","type":"quantitative","scale":{"domain":[1.520064,1.57124],"nice":false,"zero":false},"axis":null},"text":{"field":"t"}}},
{"data":{"name":"tf"},"mark":{"type":"text","fontSize":6,"font":"DejaVu Sans","align":"center","baseline":"middle"},
 "encoding":{"x":{"datum":230.1,"type":"quantitative","scale":{"domain":[0.607,243.5],"nice":false,"zero":false},"axis":null},"y":{"field":"p","type":"quantitative","scale":{"domain":[1.520064,1.57124],"nice":false,"zero":false},"axis":null},
 "text":{"condition":{"test":"datum.t=='Yearly'||datum.t=='4Hours'","value":"⇧"},"value":"⇳"},
 "color":{"condition":{"test":"datum.t=='Yearly'||datum.t=='4Hours'","value":"#22cc22"},"value":"#ff9933"}}},
{"data":{"values":[{"t":"BB","p":1.56242}]},"mark":{"type":"text","fontSize":6,"color":"#4444ff","align":"center","baseline":"middle","fontWeight":"bold"},
 "encoding":{"x":{"datum":229.3,"type":"quantitative","scale":{"domain":[0.607,243.5],"nice":false,"zero":false},"axis":null},"y":{"field":"p","type":"quantitative","scale":{"domain":[1.520064,1.57124],"nice":false,"zero":false},"axis":null},"text":{"field":"t"}}},
{"data":{"values":[{"t":["EURUSD,H1  1.5573 1.5575 1.5573 1.5575","KG Weekly Standard Deviation Level Current"]}]},"mark":{"type":"text","fontSize":6,"color":"#000000","align":"left","baseline":"top","lineHeight":8},
 "encoding":{"x":{"datum":1.9,"type":"quantitative","scale":{"domain":[0.607,243.5],"nice":false,"zero":false},"axis":null},"y":{"datum":1.57102,"type":"quantitative","scale":{"domain":[1.520064,1.57124],"nice":false,"zero":false},"axis":null},"text":{"field":"t"}}},
{"data":{"values":[{"t":"#4171332 buy","p":1.5579}]},"mark":{"type":"text","fontSize":5.6,"color":"#333333","align":"left","baseline":"middle"},
 "encoding":{"x":{"datum":2.2,"type":"quantitative","scale":{"domain":[0.607,243.5],"nice":false,"zero":false},"axis":null},"y":{"field":"p","type":"quantitative","scale":{"domain":[1.520064,1.57124],"nice":false,"zero":false},"axis":null},"text":{"field":"t"}}},
{"data":{"values":[{"p":1.5575}]},"mark":{"type":"bar","height":8,"fill":"#000000"},
 "encoding":{"x":{"datum":244.1,"type":"quantitative","scale":{"domain":[0.607,243.5],"nice":false,"zero":false},"axis":null},"x2":{"datum":253.2},"y":{"field":"p","type":"quantitative","scale":{"domain":[1.520064,1.57124],"nice":false,"zero":false},"axis":null}}},
{"data":{"values":[{"p":1.5575}]},"mark":{"type":"text","fontSize":6.2,"color":"#ffffff","align":"left","baseline":"middle"},
 "encoding":{"x":{"datum":244.8,"type":"quantitative","scale":{"domain":[0.607,243.5],"nice":false,"zero":false},"axis":null},"y":{"field":"p","type":"quantitative","scale":{"domain":[1.520064,1.57124],"nice":false,"zero":false},"axis":null},"text":{"field":"p","format":".4f"}}},
{"data":{"name":"pnl"},"mark":{"type":"text","fontSize":6,"color":"#000000","align":"left","baseline":"middle"},
 "encoding":{"x":{"datum":244.8,"type":"quantitative","scale":{"domain":[0.607,243.5],"nice":false,"zero":false},"axis":null},"y":{"field":"r","type":"quantitative","scale":{"domain":[-35.222,3.444],"reverse":true,"nice":false,"zero":false},"axis":null},"text":{"field":"t"}}},
{"data":{"name":"stats"},"transform":[{"filter":"datum.g=='al' && datum.r==1"}],"mark":{"type":"text","align":"left","baseline":"middle","fontSize":8,"fontWeight":"bold","color":"#5f9ea0"},
 "encoding":{"x":{"datum":7.08,"type":"quantitative","scale":{"domain":[0.607,243.5],"nice":false,"zero":false},"axis":null},"y":{"field":"r","type":"quantitative","scale":{"domain":[-35.222,3.444],"reverse":true,"nice":false,"zero":false},"axis":null},"text":{"field":"t"}}},
{"data":{"name":"stats"},"transform":[{"filter":"datum.g=='al' && datum.r>1"}],"mark":{"type":"text","align":"left","baseline":"middle","fontSize":8,"color":"#6aa5a7"},
 "encoding":{"x":{"datum":7.08,"type":"quantitative","scale":{"domain":[0.607,243.5],"nice":false,"zero":false},"axis":null},"y":{"field":"r","type":"quantitative","scale":{"domain":[-35.222,3.444],"reverse":true,"nice":false,"zero":false},"axis":null},"text":{"field":"t"}}},
{"data":{"name":"stats"},"transform":[{"filter":"datum.g=='av'"}],"mark":{"type":"text","align":"left","baseline":"middle","fontSize":8,"color":"#ff9933"},
 "encoding":{"x":{"datum":38.66,"type":"quantitative","scale":{"domain":[0.607,243.5],"nice":false,"zero":false},"axis":null},"y":{"field":"r","type":"quantitative","scale":{"domain":[-35.222,3.444],"reverse":true,"nice":false,"zero":false},"axis":null},"text":{"field":"t"}}},
{"data":{"name":"stats"},"transform":[{"filter":"datum.g=='cl' && datum.r==1"}],"mark":{"type":"text","align":"left","baseline":"middle","fontSize":8,"fontWeight":"bold","color":"#5f9ea0"},
 "encoding":{"x":{"datum":50.8,"type":"quantitative","scale":{"domain":[0.607,243.5],"nice":false,"zero":false},"axis":null},"y":{"field":"r","type":"quantitative","scale":{"domain":[-35.222,3.444],"reverse":true,"nice":false,"zero":false},"axis":null},"text":{"field":"t"}}},
{"data":{"name":"stats"},"transform":[{"filter":"datum.g=='cl' && datum.r>1"}],"mark":{"type":"text","align":"left","baseline":"middle","fontSize":8,"color":"#6aa5a7"},
 "encoding":{"x":{"datum":50.8,"type":"quantitative","scale":{"domain":[0.607,243.5],"nice":false,"zero":false},"axis":null},"y":{"field":"r","type":"quantitative","scale":{"domain":[-35.222,3.444],"reverse":true,"nice":false,"zero":false},"axis":null},"text":{"field":"t"}}},
{"data":{"name":"stats"},"transform":[{"filter":"datum.g=='cv'"}],"mark":{"type":"text","align":"left","baseline":"middle","fontSize":8,"color":"#33aa33"},
 "encoding":{"x":{"datum":82.4,"type":"quantitative","scale":{"domain":[0.607,243.5],"nice":false,"zero":false},"axis":null},"y":{"field":"r","type":"quantitative","scale":{"domain":[-35.222,3.444],"reverse":true,"nice":false,"zero":false},"axis":null},"text":{"field":"t"}}},
{"data":{"name":"stats"},"transform":[{"filter":"datum.g=='mnl'"}],"mark":{"type":"text","align":"left","baseline":"middle","fontSize":8,"color":"#7ea7c9"},
 "encoding":{"x":{"datum":95.3,"type":"quantitative","scale":{"domain":[0.607,243.5],"nice":false,"zero":false},"axis":null},"y":{"field":"r","type":"quantitative","scale":{"domain":[-35.222,3.444],"reverse":true,"nice":false,"zero":false},"axis":null},"text":{"field":"t"}}},
{"data":{"name":"stats"},"transform":[{"filter":"datum.g=='mn'"}],"mark":{"type":"text","align":"left","baseline":"middle","fontSize":8,"color":"#ff33ff"},
 "encoding":{"x":{"datum":102.6,"type":"quantitative","scale":{"domain":[0.607,243.5],"nice":false,"zero":false},"axis":null},"y":{"field":"r","type":"quantitative","scale":{"domain":[-35.222,3.444],"reverse":true,"nice":false,"zero":false},"axis":null},"text":{"field":"t"}}},
{"data":{"name":"stats"},"transform":[{"filter":"datum.g=='mxl'"}],"mark":{"type":"text","align":"left","baseline":"middle","fontSize":8,"color":"#7ea7c9"},
 "encoding":{"x":{"datum":113.1,"type":"quantitative","scale":{"domain":[0.607,243.5],"nice":false,"zero":false},"axis":null},"y":{"field":"r","type":"quantitative","scale":{"domain":[-35.222,3.444],"reverse":true,"nice":false,"zero":false},"axis":null},"text":{"field":"t"}}},
{"data":{"name":"stats"},"transform":[{"filter":"datum.g=='mx'"}],"mark":{"type":"text","align":"left","baseline":"middle","fontSize":8,"color":"#3a3acc"},
 "encoding":{"x":{"datum":121.6,"type":"quantitative","scale":{"domain":[0.607,243.5],"nice":false,"zero":false},"axis":null},"y":{"field":"r","type":"quantitative","scale":{"domain":[-35.222,3.444],"reverse":true,"nice":false,"zero":false},"axis":null},"text":{"field":"t"}}},
{"data":{"name":"stats"},"transform":[{"filter":"datum.g=='ll'"}],"mark":{"type":"text","align":"left","baseline":"middle","fontSize":8,"fontWeight":"bold","color":"#5f9ea0"},
 "encoding":{"x":{"datum":133.8,"type":"quantitative","scale":{"domain":[0.607,243.5],"nice":false,"zero":false},"axis":null},"y":{"field":"r","type":"quantitative","scale":{"domain":[-35.222,3.444],"reverse":true,"nice":false,"zero":false},"axis":null},"text":{"field":"t"}}},
{"data":{"name":"stats"},"transform":[{"filter":"datum.g=='lc'"}],"mark":{"type":"text","align":"left","baseline":"middle","fontSize":8,"fontWeight":"bold","color":"#5f9ea0"},
 "encoding":{"x":{"datum":156.5,"type":"quantitative","scale":{"domain":[0.607,243.5],"nice":false,"zero":false},"axis":null},"y":{"field":"r","type":"quantitative","scale":{"domain":[-35.222,3.444],"reverse":true,"nice":false,"zero":false},"axis":null},"text":{"field":"t"}}},
{"data":{"name":"stats"},"transform":[{"filter":"datum.g=='lb'"}],"mark":{"type":"text","align":"left","baseline":"middle","fontSize":8,"color":"#33cc33"},
 "encoding":{"x":{"datum":160.1,"type":"quantitative","scale":{"domain":[0.607,243.5],"nice":false,"zero":false},"axis":null},"y":{"field":"r","type":"quantitative","scale":{"domain":[-35.222,3.444],"reverse":true,"nice":false,"zero":false},"axis":null},"text":{"field":"t"}}},
{"data":{"name":"stats"},"transform":[{"filter":"datum.g=='tu'"}],"mark":{"type":"text","align":"left","baseline":"middle","fontSize":8,"color":"#7ea7b9"},
 "encoding":{"x":{"datum":187.6,"type":"quantitative","scale":{"domain":[0.607,243.5],"nice":false,"zero":false},"axis":null},"y":{"field":"r","type":"quantitative","scale":{"domain":[-35.222,3.444],"reverse":true,"nice":false,"zero":false},"axis":null},"text":{"field":"t"}}},
{"data":{"name":"stats"},"transform":[{"filter":"datum.g=='tc'"}],"mark":{"type":"text","align":"left","baseline":"middle","fontSize":8,"color":"#7ea7b9"},
 "encoding":{"x":{"datum":195.8,"type":"quantitative","scale":{"domain":[0.607,243.5],"nice":false,"zero":false},"axis":null},"y":{"field":"r","type":"quantitative","scale":{"domain":[-35.222,3.444],"reverse":true,"nice":false,"zero":false},"axis":null},"text":{"field":"t"}}},
{"data":{"name":"stats"},"transform":[{"filter":"datum.g=='tp'"}],"mark":{"type":"text","align":"left","baseline":"middle","fontSize":8},
 "encoding":{"x":{"datum":198.6,"type":"quantitative","scale":{"domain":[0.607,243.5],"nice":false,"zero":false},"axis":null},"y":{"field":"r","type":"quantitative","scale":{"domain":[-35.222,3.444],"reverse":true,"nice":false,"zero":false},"axis":null},"text":{"field":"t"},
 "color":{"condition":{"test":"datum.r==2","value":"#2eaa2e"},"value":"#ff3333"}}},
{"data":{"values":[{"t":"Trend Analysis","r":0.78}]},"mark":{"type":"text","align":"left","baseline":"middle","fontSize":8,"fontWeight":"bold","color":"#5f9ea0"},
 "encoding":{"x":{"datum":199.8,"type":"quantitative","scale":{"domain":[0.607,243.5],"nice":false,"zero":false},"axis":null},"y":{"field":"r","type":"quantitative","scale":{"domain":[-35.222,3.444],"reverse":true,"nice":false,"zero":false},"axis":null},"text":{"field":"t"}}},
{"data":{"values":[{"t":"......Sideway......","r":2.56}]},"mark":{"type":"text","align":"left","baseline":"middle","fontSize":6,"color":"#3333ff"},
 "encoding":{"x":{"datum":213.5,"type":"quantitative","scale":{"domain":[0.607,243.5],"nice":false,"zero":false},"axis":null},"y":{"field":"r","type":"quantitative","scale":{"domain":[-35.222,3.444],"reverse":true,"nice":false,"zero":false},"axis":null},"text":{"field":"t"}}},
{"data":{"values":[{"t":"MetaTrader, © 2001-2007 MetaQuotes Software Corp.","r":3.3}]},"mark":{"type":"text","align":"left","baseline":"middle","fontSize":6,"color":"#000000"},
 "encoding":{"x":{"datum":1.4,"type":"quantitative","scale":{"domain":[0.607,243.5],"nice":false,"zero":false},"axis":null},"y":{"field":"r","type":"quantitative","scale":{"domain":[-35.222,3.444],"reverse":true,"nice":false,"zero":false},"axis":null},"text":{"field":"t"}}}
]
}
